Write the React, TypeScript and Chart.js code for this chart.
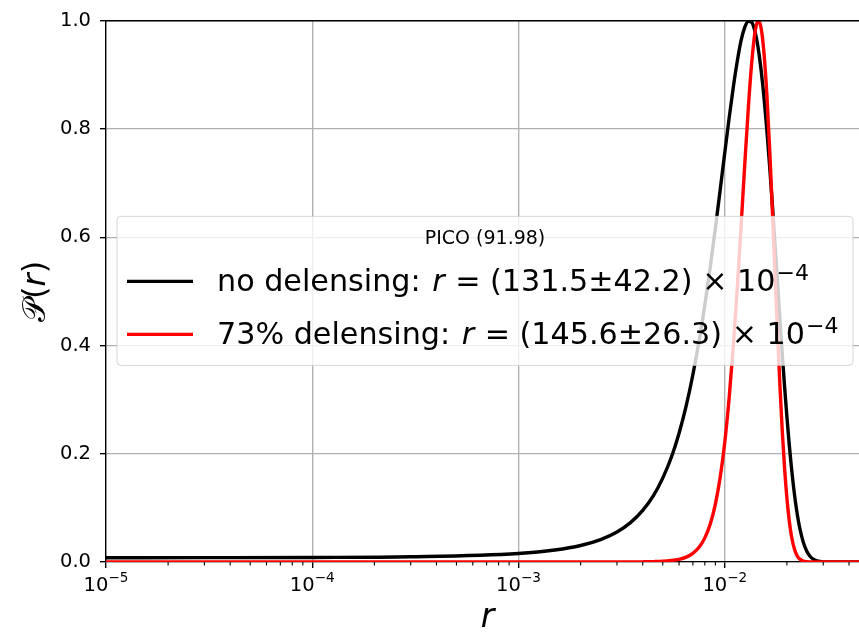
import React, { useEffect, useRef } from "react";
import { Chart, registerables } from "chart.js";

Chart.register(...registerables);

// r values (x, log scale)
const R = [
  1e-5, 3e-5, 1e-4, 3e-4, 1e-3, 1.5e-3, 2e-3, 2.5e-3, 3e-3, 3.5e-3, 4e-3, 4.5e-3,
  5e-3, 5.5e-3, 6e-3, 6.5e-3, 7e-3, 7.5e-3, 8e-3, 8.5e-3, 9e-3, 9.5e-3, 0.01,
  0.0105, 0.011, 0.0115, 0.012, 0.0125, 0.013, 0.0135, 0.014, 0.0145, 0.015,
  0.0155, 0.016, 0.0165, 0.017, 0.0175, 0.018, 0.0185, 0.019, 0.0195, 0.02,
  0.0205, 0.021, 0.0215, 0.022, 0.0225, 0.023, 0.024, 0.025, 0.026, 0.027,
  0.028, 0.03, 0.035, 0.05,
];

// P(r), no delensing
const NO_DELENSING = [
  0.0078, 0.008, 0.0084, 0.0097, 0.0158, 0.0222, 0.0305, 0.0414, 0.0554, 0.0732,
  0.0953, 0.122, 0.155, 0.193, 0.238, 0.289, 0.346, 0.408, 0.475, 0.545, 0.617,
  0.688, 0.757, 0.821, 0.878, 0.926, 0.964, 0.988, 0.999, 0.997, 0.98, 0.95,
  0.908, 0.856, 0.796, 0.73, 0.66, 0.588, 0.517, 0.448, 0.383, 0.322, 0.268,
  0.219, 0.177, 0.141, 0.111, 0.0859, 0.0656, 0.0367, 0.0194, 0.0097, 0.0046,
  0.002, 0.0003, 0, 0,
];

// P(r), 73% delensing
const DELENSING_73 = [
  0, 0, 0, 0, 0, 0, 0, 0, 0, 0, 0.0003, 0.0007, 0.0013, 0.0027, 0.005, 0.0091,
  0.0161, 0.0272, 0.0446, 0.0703, 0.107, 0.157, 0.222, 0.304, 0.4, 0.508, 0.623,
  0.736, 0.839, 0.922, 0.978, 1.0, 0.986, 0.938, 0.861, 0.762, 0.65, 0.535,
  0.425, 0.326, 0.24, 0.171, 0.118, 0.078, 0.0499, 0.031, 0.0183, 0.0105,
  0.0058, 0.0016, 0.0004, 0.0001, 0, 0, 0, 0, 0,
];

const X_MIN = 1e-5;
const X_MAX = 5e-2;
const X_MAJOR = [1e-5, 1e-4, 1e-3, 1e-2];
const X_MAJOR_EXP = ["\u22125", "\u22124", "\u22123", "\u22122"];
const X_MINOR_MULT = [2, 3, 4, 5, 6, 7, 8, 9];

const LEGEND_TITLE = "PICO (91.98)";
const SERIES_NAMES = ["no delensing: ", "73% delensing: "];
const SERIES_VALUES = [" = (131.5\u00b142.2) \u00d7 10", " = (145.6\u00b126.3) \u00d7 10"];
const SERIES_EXP = ["\u22124", "\u22124"];
const SERIES_COLORS = ["#000000", "#ff0000"];

const FAM = "'DejaVu Sans', 'Noto Sans', sans-serif";

type Seg = { t: string; f: string; dy?: number; dx?: number };

function drawSegs(ctx: CanvasRenderingContext2D, segs: Seg[], x: number, y: number, align: "left" | "center") {
  let total = 0;
  const widths = segs.map((s) => {
    ctx.font = s.f;
    const w = ctx.measureText(s.t).width + (s.dx || 0);
    total += w;
    return w;
  });
  let cx = align === "center" ? x - total / 2 : x;
  ctx.textAlign = "left";
  ctx.textBaseline = "alphabetic";
  segs.forEach((s, i) => {
    ctx.font = s.f;
    ctx.fillText(s.t, cx + (s.dx || 0), y + (s.dy || 0));
    cx += widths[i];
  });
}

const overlayPlugin = {
  id: "overlay",
  afterDraw(chart: any) {
    const ctx: CanvasRenderingContext2D = chart.ctx;
    const a = chart.chartArea;
    const xs = chart.scales.x;
    ctx.save();

    // top spine
    ctx.strokeStyle = "#000";
    ctx.lineWidth = 1.36;
    ctx.beginPath();
    ctx.moveTo(a.left, a.top);
    ctx.lineTo(a.right, a.top);
    ctx.stroke();

    // minor x ticks
    ctx.lineWidth = 1.1;
    X_MAJOR.forEach((m) => {
      X_MINOR_MULT.forEach((k) => {
        const v = m * k;
        if (v > X_MAX) return;
        const px = xs.getPixelForValue(v);
        ctx.beginPath();
        ctx.moveTo(px, a.bottom);
        ctx.lineTo(px, a.bottom + 3.5);
        ctx.stroke();
      });
    });

    // major x tick labels 10^n
    ctx.fillStyle = "#000";
    X_MAJOR.forEach((v, i) => {
      const px = xs.getPixelForValue(v);
      drawSegs(
        ctx,
        [
          { t: "10", f: `19.5px ${FAM}` },
          { t: X_MAJOR_EXP[i], f: `13.6px ${FAM}`, dy: -9 },
        ],
        px,
        a.bottom + 29,
        "center"
      );
    });

    // x label
    drawSegs(ctx, [{ t: "r", f: `italic 33px ${FAM}` }], (a.left + a.right) / 2, a.bottom + 65, "center");

    // y label
    ctx.save();
    ctx.translate(a.left - 61, (a.top + a.bottom) / 2);
    ctx.rotate(-Math.PI / 2);
    drawSegs(
      ctx,
      [
        { t: "\ud835\udcab", f: `32px ${FAM}` },
        { t: "(", f: `32px ${FAM}` },
        { t: "r", f: `italic 32px ${FAM}` },
        { t: ")", f: `32px ${FAM}` },
      ],
      0,
      0,
      "center"
    );
    ctx.restore();

    // legend
    const cx = (a.left + a.right) / 2;
    const cy = (a.top + a.bottom) / 2;
    const bx = cx - 370.5;
    const by = cy - 75;
    const bw = 736;
    const bh = 149;
    ctx.beginPath();
    (ctx as any).roundRect(bx, by, bw, bh, 4);
    ctx.fillStyle = "rgba(255,255,255,0.8)";
    ctx.fill();
    ctx.strokeStyle = "rgba(204,204,204,0.8)";
    ctx.lineWidth = 1;
    ctx.stroke();

    ctx.fillStyle = "#000";
    drawSegs(ctx, [{ t: LEGEND_TITLE, f: `19px ${FAM}` }], bx + bw / 2, by + 28, "center");

    SERIES_NAMES.forEach((name, i) => {
      const base = by + 75 + i * 53;
      ctx.strokeStyle = SERIES_COLORS[i];
      ctx.lineWidth = 3.4;
      ctx.beginPath();
      ctx.moveTo(bx + 10, base - 10);
      ctx.lineTo(bx + 76, base - 10);
      ctx.stroke();
      ctx.fillStyle = "#000";
      drawSegs(
        ctx,
        [
          { t: name, f: `30.2px ${FAM}` },
          { t: "r", f: `italic 30.2px ${FAM}`, dx: 2 },
          { t: SERIES_VALUES[i], f: `30.2px ${FAM}`, dx: 1 },
          { t: SERIES_EXP[i], f: `22px ${FAM}`, dy: -11, dx: 1 },
        ],
        bx + 100,
        base,
        "left"
      );
    });

    ctx.restore();
  },
};

export default function App() {
  const ref = useRef<HTMLCanvasElement | null>(null);

  useEffect(() => {
    document.body.style.margin = "0";
    const canvas = ref.current;
    if (!canvas) return;
    const chart = new Chart(canvas, {
      type: "line",
      data: {
        datasets: [
          {
            label: "no delensing",
            data: R.map((x, i) => ({ x, y: NO_DELENSING[i] })),
            borderColor: SERIES_COLORS[0],
            borderWidth: 3.4,
            pointRadius: 0,
            fill: false,
            cubicInterpolationMode: "monotone",
            order: 1,
          },
          {
            label: "73% delensing",
            data: R.map((x, i) => ({ x, y: DELENSING_73[i] })),
            borderColor: SERIES_COLORS[1],
            borderWidth: 3.4,
            pointRadius: 0,
            fill: false,
            cubicInterpolationMode: "monotone",
            order: 0,
          },
        ],
      },
      options: {
        animation: false,
        responsive: false,
        devicePixelRatio: 1,
        layout: { padding: { top: 18, left: 0, right: 1, bottom: 0 } },
        plugins: { legend: { display: false }, tooltip: { enabled: false } },
        scales: {
          x: {
            type: "logarithmic",
            min: X_MIN,
            max: X_MAX,
            afterBuildTicks: (scale: any) => {
              scale.ticks = X_MAJOR.map((v) => ({ value: v, major: true }));
            },
            afterFit: (scale: any) => {
              scale.height = 70;
            },
            ticks: { display: false },
            grid: {
              color: "#b0b0b0",
              lineWidth: 1.36,
              tickColor: "#000",
              tickLength: 6,
              drawTicks: true,
            },
            border: { display: true, color: "#000", width: 1.36 },
          },
          y: {
            type: "linear",
            min: 0,
            max: 1,
            afterFit: (scale: any) => {
              scale.width = 106;
            },
            ticks: {
              stepSize: 0.2,
              color: "#000",
              padding: 9,
              font: { family: "DejaVu Sans", size: 19.5 },
              callback: (v: any) => Number(v).toFixed(1),
            },
            grid: {
              color: "#b0b0b0",
              lineWidth: 1.36,
              tickColor: "#000",
              tickLength: 6,
            },
            border: { display: true, color: "#000", width: 1.36 },
          },
        },
      },
      plugins: [overlayPlugin],
    } as any);
    return () => chart.destroy();
  }, []);

  return (
    <div style={{ width: 859, height: 632, overflow: "hidden", position: "relative", background: "#fff" }}>
      <canvas ref={ref} width={870} height={632} style={{ display: "block" }} />
    </div>
  );
}
